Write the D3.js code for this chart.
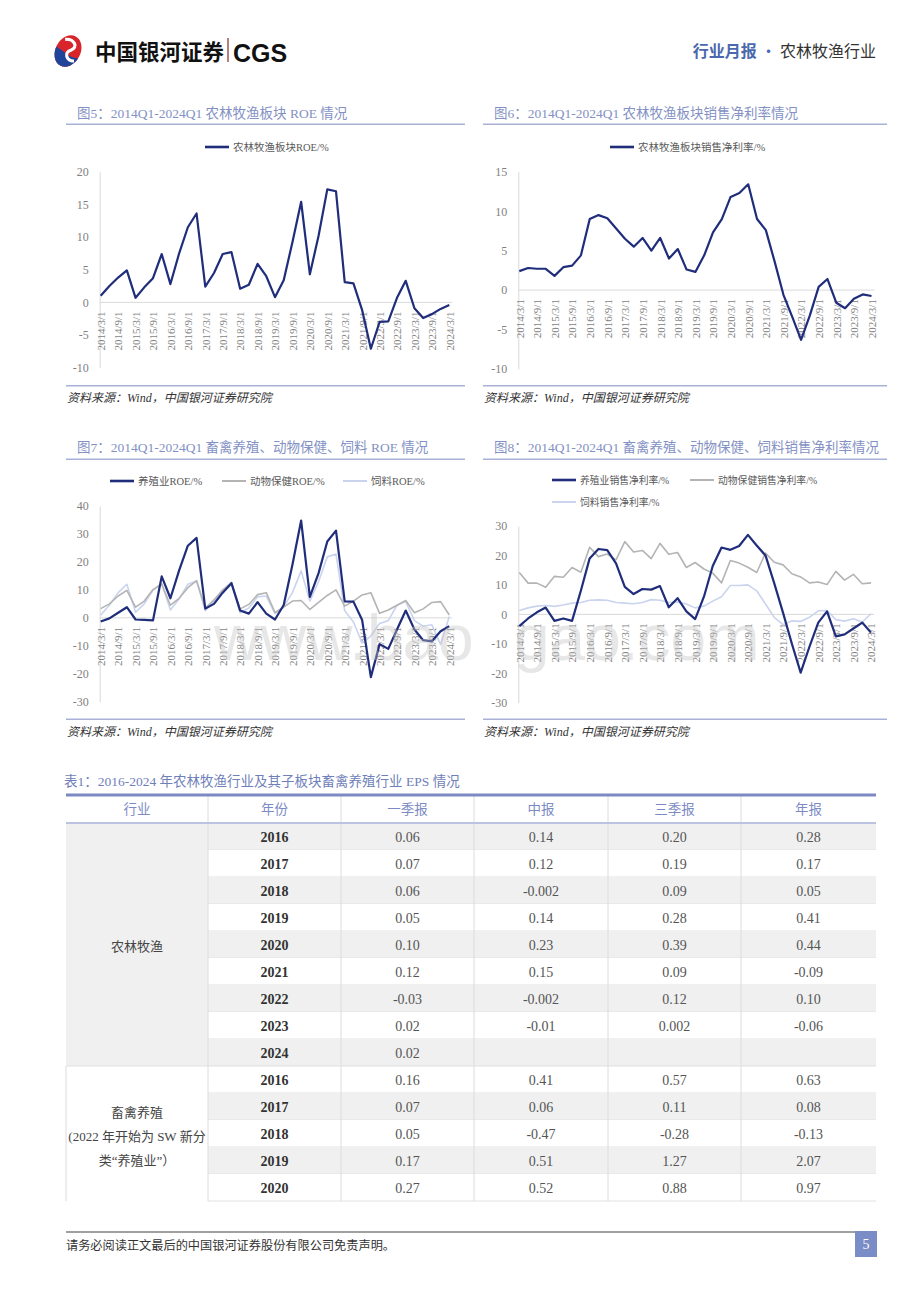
<!DOCTYPE html>
<html>
<head>
<meta charset="utf-8">
<script src="https://cdn.jsdelivr.net/npm/d3@7"></script>
<style>
body { margin: 0; background: #fff; }
svg { display: block; }
text { font-family: "Liberation Serif", "Noto Sans CJK SC", serif; }
</style>
</head>
<body>
<div id="page"></div>
<script>
// quarters 2014Q1 - 2024Q1
const quarters = [
  '2014/3/1','2014/6/1','2014/9/1','2014/12/1','2015/3/1','2015/6/1','2015/9/1','2015/12/1',
  '2016/3/1','2016/6/1','2016/9/1','2016/12/1','2017/3/1','2017/6/1','2017/9/1','2017/12/1',
  '2018/3/1','2018/6/1','2018/9/1','2018/12/1','2019/3/1','2019/6/1','2019/9/1','2019/12/1',
  '2020/3/1','2020/6/1','2020/9/1','2020/12/1','2021/3/1','2021/6/1','2021/9/1','2021/12/1',
  '2022/3/1','2022/6/1','2022/9/1','2022/12/1','2023/3/1','2023/6/1','2023/9/1','2023/12/1',
  '2024/3/1'
];

// fig 5
const roeSector = [1.0, 2.5, 3.8, 4.9, 0.7, 2.3, 3.7, 7.4, 2.8, 7.5, 11.5, 13.6, 2.4, 4.5, 7.4, 7.7, 2.1, 2.7, 5.9, 4.0,
  0.8, 3.4, 9.2, 15.4, 4.3, 10.2, 17.3, 17.0, 3.1, 2.9, -1.2, -7.1, -3.0, -2.9, 0.7, 3.3, -0.9, -2.4, -1.8, -1.0, -0.4];
// fig 6
const marginSector = [2.4, 2.8, 2.7, 2.7, 1.8, 2.9, 3.1, 4.4, 9.0, 9.5, 9.1, 7.8, 6.5, 5.5, 6.6, 5.0, 6.6, 4.0, 5.2, 2.6,
  2.3, 4.4, 7.3, 9.0, 11.8, 12.3, 13.4, 9.0, 7.6, 3.6, -0.6, -3.4, -6.3, -3.2, 0.4, 1.4, -1.6, -2.3, -1.1, -0.55, -0.75];
// fig 7
const roeBreeding = [-1.3, -0.2, 1.8, 3.8, -0.6, -0.7, -0.9, 14.8, 7.0, 17.0, 25.8, 28.6, 3.3, 5.0, 9.0, 12.4, 2.6, 1.5, 5.6, 1.5,
  -0.6, 4.6, 19.0, 34.8, 7.5, 16.0, 27.3, 31.2, 5.9, 5.8, -0.8, -21.2, -9.4, -11.1, -4.2, 2.6, -4.2, -8.0, -8.4, -4.8, -3.0];
const roeAnimalHealth = [3.3, 5.0, 7.8, 9.8, 3.8, 6.0, 10.1, 12.0, 4.5, 7.0, 10.8, 13.3, 3.5, 6.4, 10.0, 12.5, 3.2, 4.8, 8.3, 9.0,
  1.9, 3.8, 6.0, 6.2, 3.0, 5.5, 8.0, 10.0, 4.2, 6.0, 8.2, 9.0, 1.6, 2.8, 4.5, 6.2, 1.8, 3.2, 5.5, 5.8, 1.0];
const roeFeed = [1.0, 4.5, 9.0, 12.0, 2.0, 5.0, 9.8, 12.3, 2.8, 6.8, 12.0, 13.2, 2.5, 6.0, 9.8, 12.8, 1.8, 3.5, 7.5, 7.8,
  1.5, 4.0, 9.0, 16.8, 6.0, 13.0, 21.8, 22.8, 2.5, -1.5, -9.0, -6.5, -2.0, -1.0, 4.5, 5.8, -1.0, -3.0, -2.5, -9.5, 0.5];
// fig 8
const marginBreeding = [-4.0, -1.4, 0.7, 2.3, -2.2, -1.4, -2.2, 8.0, 19.0, 22.2, 21.8, 17.3, 9.3, 6.9, 8.6, 8.4, 9.6, 2.4, 5.5, 1.0,
  -1.6, 6.0, 16.4, 22.7, 21.9, 23.2, 27.0, 23.4, 20.0, 10.5, 0.5, -10.0, -19.8, -11.0, -2.8, 1.0, -7.5, -6.8, -4.8, -2.8, -6.2];
const marginAnimalHealth = [14.2, 10.6, 10.6, 9.2, 12.9, 12.6, 15.9, 14.3, 22.8, 19.6, 20.5, 18.5, 24.7, 21.2, 21.7, 18.9, 24.1, 20.4, 21.0, 15.9,
  17.6, 15.4, 14.0, 10.7, 18.3, 17.4, 16.0, 14.2, 20.8, 17.7, 16.8, 13.8, 12.7, 10.7, 11.0, 10.1, 14.6, 11.6, 13.6, 10.4, 10.7];
const marginFeed = [1.3, 2.2, 2.8, 3.0, 2.7, 3.2, 3.8, 4.0, 4.8, 4.9, 4.8, 4.0, 3.8, 3.6, 4.0, 5.0, 4.8, 4.0, 4.2, 3.5,
  2.2, 2.8, 4.5, 6.0, 9.8, 9.8, 10.0, 8.0, 3.5, -1.0, -3.5, -2.2, -2.4, -1.0, 1.2, 1.3, -1.8, -2.3, -1.5, -2.6, 0.2];

// table 1
const tableHeads = ['行业', '年份', '一季报', '中报', '三季报', '年报'];
const years1 = ['2016', '2017', '2018', '2019', '2020', '2021', '2022', '2023', '2024'];
const q1Eps1 = ['0.06', '0.07', '0.06', '0.05', '0.10', '0.12', '-0.03', '0.02', '0.02'];
const h1Eps1 = ['0.14', '0.12', '-0.002', '0.14', '0.23', '0.15', '-0.002', '-0.01', ''];
const q3Eps1 = ['0.20', '0.19', '0.09', '0.28', '0.39', '0.09', '0.12', '0.002', ''];
const fyEps1 = ['0.28', '0.17', '0.05', '0.41', '0.44', '-0.09', '0.10', '-0.06', ''];
const years2 = ['2016', '2017', '2018', '2019', '2020'];
const q1Eps2 = ['0.16', '0.07', '0.05', '0.17', '0.27'];
const h1Eps2 = ['0.41', '0.06', '-0.47', '0.51', '0.52'];
const q3Eps2 = ['0.57', '0.11', '-0.28', '1.27', '0.88'];
const fyEps2 = ['0.63', '0.08', '-0.13', '2.07', '0.97'];

const dark = '#1f2d7b', grey = '#b4b4b4', light = '#cbd4ee';
const cjk = '"Noto Sans CJK SC", sans-serif';

const svg = d3.select('#page').append('svg')
  .attr('width', 920)
  .attr('height', 1302);

// header
let logo = svg.append('g').attr('transform', 'translate(68,51) rotate(28)');
svg.append('clipPath').attr('id', 'logoClip')
  .append('ellipse').attr('rx', 12.5).attr('ry', 16.5);
let lg = logo.append('g').attr('clip-path', 'url(#logoClip)');
lg.append('rect').attr('x', -20).attr('y', -20).attr('width', 40).attr('height', 40).attr('fill', '#d8252c');
lg.append('path').attr('d', 'M -20 4 C -8 -4, 6 12, 20 -4 L 20 20 L -20 20 Z').attr('fill', '#1f449a');
lg.append('path').attr('d', 'M -8 -9 C 0 -14, 8 -8, 2 -2 C -3 3, 3 10, 10 6')
  .attr('fill', 'none').attr('stroke', '#fff').attr('stroke-width', 3.2);

svg.append('text').attr('x', 95).attr('y', 60)
  .style('font-family', cjk).style('font-weight', 700).style('font-size', '21.5px').attr('fill', '#111')
  .text('中国银河证券');
svg.append('line').attr('x1', 228).attr('x2', 228).attr('y1', 38).attr('y2', 62)
  .attr('stroke', '#8b2a2a').attr('stroke-width', 1.2);
svg.append('text').attr('x', 233).attr('y', 61.5)
  .style('font-family', '"Liberation Sans", Arial, sans-serif').style('font-weight', 700).style('font-size', '25px').attr('fill', '#111')
  .text('CGS');

let head = svg.append('text').attr('x', 876).attr('y', 57).attr('text-anchor', 'end')
  .style('font-family', cjk).style('font-size', '16px');
head.append('tspan').attr('fill', '#4a68ad').style('font-weight', 700).text('行业月报');
head.append('tspan').attr('fill', '#4a68ad').text(' · ');
head.append('tspan').attr('fill', '#333').text('农林牧渔行业');

// charts
let charts = [
  {title: '图5：2014Q1-2024Q1 农林牧渔板块 ROE 情况', left: 66, right: 465, titleY: 118, top: 124.3, bottom: 385.7,
    xr: [100.7, 449.3], yr: [367.7, 171.7], dom: [-10, 20], step: 5, lsize: 10.5,
    series: [{name: '农林牧渔板块ROE/%', values: roeSector, color: dark, w: 2.2, lx: 205, ly: 147}]},
  {title: '图6：2014Q1-2024Q1 农林牧渔板块销售净利率情况', left: 483, right: 887, titleY: 118, top: 124.3, bottom: 385.7,
    xr: [519.3, 871.5], yr: [369, 171.7], dom: [-10, 15], step: 5, lsize: 10.5,
    series: [{name: '农林牧渔板块销售净利率/%', values: marginSector, color: dark, w: 2.2, lx: 610, ly: 147}]},
  {title: '图7：2014Q1-2024Q1 畜禽养殖、动物保健、饲料 ROE 情况', left: 66, right: 465, titleY: 451.5, top: 459.3, bottom: 719.3,
    xr: [100.7, 449.3], yr: [701.7, 506], dom: [-30, 40], step: 10, lsize: 10.5,
    series: [
      {name: '养殖业ROE/%', values: roeBreeding, color: dark, w: 2.2, lx: 110, ly: 481},
      {name: '动物保健ROE/%', values: roeAnimalHealth, color: grey, w: 1.6, lx: 222, ly: 481},
      {name: '饲料ROE/%', values: roeFeed, color: light, w: 1.6, lx: 343, ly: 481}]},
  {title: '图8：2014Q1-2024Q1 畜禽养殖、动物保健、饲料销售净利率情况', left: 483, right: 887, titleY: 451.5, top: 459.3, bottom: 719.3,
    xr: [519.3, 871], yr: [702.7, 526], dom: [-30, 30], step: 10, lsize: 9.8,
    series: [
      {name: '养殖业销售净利率/%', values: marginBreeding, color: dark, w: 2.2, lx: 552, ly: 480},
      {name: '动物保健销售净利率/%', values: marginAnimalHealth, color: grey, w: 1.6, lx: 690, ly: 480},
      {name: '饲料销售净利率/%', values: marginFeed, color: light, w: 1.6, lx: 552, ly: 502}]}
];

charts.forEach(c => {
  let g = svg.append('g');

  g.append('text').attr('x', c.left + 11).attr('y', c.titleY)
    .style('font-size', '13.5px').attr('fill', '#8391c4').text(c.title);
  g.append('line').attr('x1', c.left).attr('x2', c.right).attr('y1', c.top).attr('y2', c.top)
    .attr('stroke', '#a9b1d8').attr('stroke-width', 1.5);
  g.append('line').attr('x1', c.left).attr('x2', c.right).attr('y1', c.bottom).attr('y2', c.bottom)
    .attr('stroke', '#a9b1d8').attr('stroke-width', 1.5);
  g.append('text').attr('x', c.left + 1).attr('y', c.bottom + 16.5)
    .style('font-size', '12px').style('font-style', 'italic').attr('fill', '#333')
    .text('资料来源：Wind，中国银河证券研究院');

  let x = d3.scalePoint().domain(quarters).range(c.xr);
  let y = d3.scaleLinear().domain(c.dom).range(c.yr);
  let axisX = c.xr[0] - 1;

  // y axis
  let ya = g.append('g').attr('transform', `translate(${axisX},0)`)
    .call(d3.axisLeft(y)
      .tickValues(d3.range(c.dom[0], c.dom[1] + c.step / 2, c.step))
      .tickSize(0).tickPadding(11)
      .tickFormat(d => String(d)));
  ya.select('.domain').attr('stroke', '#d9d9d9');
  ya.selectAll('text').style('font-family', '"Liberation Serif", serif').style('font-size', '12px').attr('fill', '#7f7f7f');

  // x axis at zero
  let xa = g.append('g').attr('transform', `translate(0,${y(0)})`)
    .call(d3.axisBottom(x)
      .tickValues(quarters.filter((d, i) => i % 2 == 0))
      .tickSize(0));
  xa.select('.domain').attr('d', `M${axisX},0H${c.xr[1] + 3}`).attr('stroke', '#d9d9d9');
  xa.selectAll('text')
    .attr('transform', 'rotate(-90)')
    .attr('x', -9).attr('y', 0).attr('dy', '0.35em')
    .style('text-anchor', 'end')
    .style('font-family', '"Liberation Serif", serif').style('font-size', '11px').attr('fill', '#7f7f7f');

  let line = d3.line()
    .x((d, i) => x(quarters[i]))
    .y(d => y(d));

  g.append('g').selectAll('path')
    .data(c.series.slice().reverse())
    .join('path')
    .attr('fill', 'none')
    .attr('stroke', d => d.color)
    .attr('stroke-width', d => d.w)
    .attr('stroke-linejoin', 'round')
    .attr('d', d => line(d.values));

  // legend
  let lgd = g.append('g').selectAll('g')
    .data(c.series)
    .join('g')
    .attr('transform', d => `translate(${d.lx},${d.ly})`);
  lgd.append('line').attr('x1', 0).attr('x2', 24)
    .attr('stroke', d => d.color).attr('stroke-width', d => d.w + 0.4);
  lgd.append('text').attr('x', 28).attr('y', 3.6)
    .style('font-size', c.lsize + 'px').attr('fill', '#595959')
    .text(d => d.name);
});

// watermark, split around the y labels of fig 8
svg.selectAll('text.wm')
  .data([['www.bao', 214], ['gao.com', 514]])
  .join('text')
  .attr('class', 'wm')
  .attr('x', d => d[1]).attr('y', 660)
  .style('font-family', '"Liberation Sans", Arial, sans-serif').style('font-size', '64px')
  .attr('fill', '#c4c4c4').attr('opacity', 0.4)
  .text(d => d[0]);

// table
svg.append('text').attr('x', 64).attr('y', 786)
  .style('font-size', '13.5px').attr('fill', '#6f7fb9')
  .text('表1：2016-2024 年农林牧渔行业及其子板块畜禽养殖行业 EPS 情况');

const colEdges = [66, 208, 341, 474, 608, 741, 876];
let rows = years1.map((yr, i) => ({group: 1, year: yr, vals: [q1Eps1[i], h1Eps1[i], q3Eps1[i], fyEps1[i]], shade: i % 2 == 0}))
  .concat(years2.map((yr, i) => ({group: 2, year: yr, vals: [q1Eps2[i], h1Eps2[i], q3Eps2[i], fyEps2[i]], shade: i % 2 == 1})));

let rowY = d3.scaleBand().domain(d3.range(rows.length)).range([823, 1201]);
let tbl = svg.append('g');

tbl.append('rect').attr('x', 66).attr('y', rowY(0)).attr('width', 142).attr('height', rowY.bandwidth() * years1.length)
  .attr('fill', '#f0f0f0');

let tr = tbl.selectAll('g.row')
  .data(rows)
  .join('g')
  .attr('class', 'row')
  .attr('transform', (d, i) => `translate(0,${rowY(i)})`);
tr.append('rect').attr('x', 208).attr('width', 668).attr('height', rowY.bandwidth())
  .attr('fill', d => d.shade ? '#f0f0f0' : '#fff');
tr.append('line').attr('x1', 208).attr('x2', 876).attr('y1', rowY.bandwidth()).attr('y2', rowY.bandwidth())
  .attr('stroke', '#e2e2e2');
tr.append('text').attr('x', (colEdges[1] + colEdges[2]) / 2).attr('y', rowY.bandwidth() / 2 + 5)
  .attr('text-anchor', 'middle').style('font-size', '14px').style('font-weight', 700).attr('fill', '#333')
  .text(d => d.year);
tr.selectAll('text.v')
  .data(d => d.vals)
  .join('text')
  .attr('class', 'v')
  .attr('x', (d, i) => (colEdges[i + 2] + colEdges[i + 3]) / 2)
  .attr('y', rowY.bandwidth() / 2 + 5)
  .attr('text-anchor', 'middle').style('font-size', '14px').attr('fill', '#555')
  .text(d => d);

// vertical cell lines
tbl.selectAll('line.col')
  .data(colEdges.slice(1, 6))
  .join('line')
  .attr('class', 'col')
  .attr('x1', d => d).attr('x2', d => d)
  .attr('y1', 796).attr('y2', 1201)
  .attr('stroke', '#dcdcdc');
tbl.append('line').attr('x1', 66).attr('x2', 66).attr('y1', rowY(years1.length)).attr('y2', 1201).attr('stroke', '#dcdcdc');
tbl.append('line').attr('x1', 66).attr('x2', 876).attr('y1', rowY(years1.length)).attr('y2', rowY(years1.length))
  .attr('stroke', '#e2e2e2');

// header
tbl.selectAll('text.h')
  .data(tableHeads)
  .join('text')
  .attr('class', 'h')
  .attr('x', (d, i) => (colEdges[i] + colEdges[i + 1]) / 2)
  .attr('y', 814)
  .attr('text-anchor', 'middle')
  .style('font-family', cjk).style('font-size', '13.5px').attr('fill', '#7d8bc4')
  .text(d => d);
tbl.append('line').attr('x1', 66).attr('x2', 876).attr('y1', 795).attr('y2', 795)
  .attr('stroke', '#7d89c2').attr('stroke-width', 3);
tbl.append('line').attr('x1', 66).attr('x2', 876).attr('y1', 823).attr('y2', 823)
  .attr('stroke', '#bcc3e2').attr('stroke-width', 2);

// merged industry cells
tbl.append('text').attr('x', 137).attr('y', 951).attr('text-anchor', 'middle')
  .style('font-family', cjk).style('font-size', '13px').attr('fill', '#444')
  .text('农林牧渔');
tbl.selectAll('text.m')
  .data(['畜禽养殖', '(2022 年开始为 SW 新分', '类“养殖业”）'])
  .join('text')
  .attr('class', 'm')
  .attr('x', 137)
  .attr('y', (d, i) => 1117 + i * 24)
  .attr('text-anchor', 'middle')
  .style('font-size', '13px').attr('fill', '#444')
  .text(d => d);

// footer
svg.append('line').attr('x1', 66).attr('x2', 855).attr('y1', 1232).attr('y2', 1232)
  .attr('stroke', '#808080').attr('stroke-width', 1.5);
svg.append('text').attr('x', 66).attr('y', 1250)
  .style('font-family', cjk).style('font-size', '12.2px').attr('fill', '#333')
  .text('请务必阅读正文最后的中国银河证券股份有限公司免责声明。');
svg.append('rect').attr('x', 855).attr('y', 1231).attr('width', 22).attr('height', 26).attr('fill', '#7b8dc6');
svg.append('text').attr('x', 866).attr('y', 1249).attr('text-anchor', 'middle')
  .style('font-size', '14px').attr('fill', '#fff').text('5');
</script>
</body>
</html>
